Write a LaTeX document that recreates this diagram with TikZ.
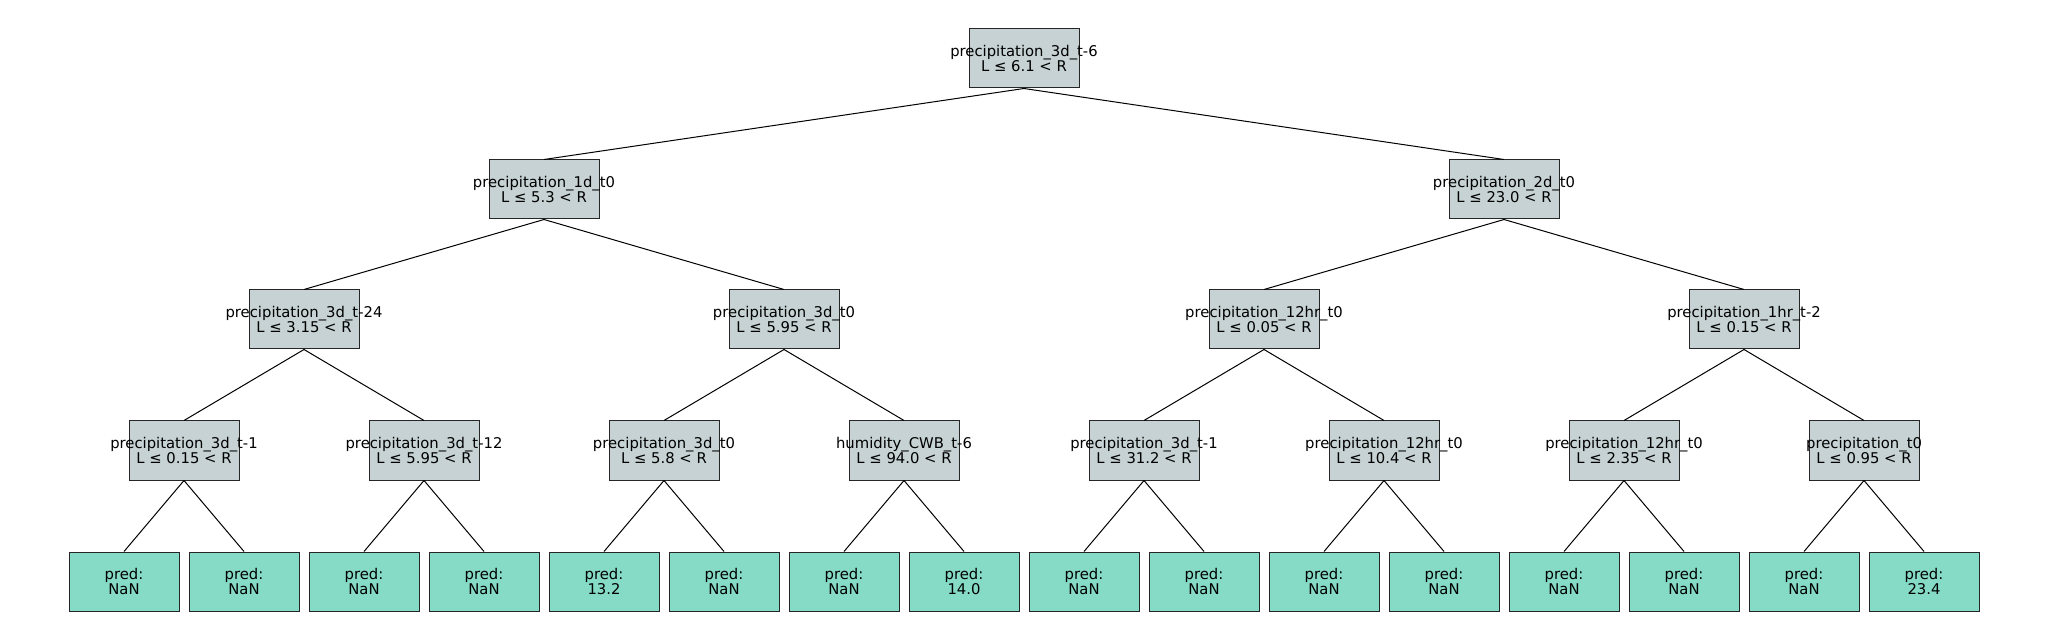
\documentclass[tikz,border=0pt]{standalone}
\usepackage{fontspec}
\setmainfont{DejaVu Sans}
\definecolor{splitfill}{HTML}{C6D2D3}
\definecolor{leaffill}{HTML}{85DBC6}
\newcommand{\twol}[2]{\makebox[0pt]{#1}\\\makebox[0pt]{#2}}
\begin{document}
\begin{tikzpicture}[x=0.5pt,y=-0.5pt,
  box/.style={draw=black!85,line width=0.5pt,minimum width=55pt,minimum height=29.5pt,inner sep=0pt,align=center,font=\fontsize{7.4pt}{7.9pt}\selectfont},
  split/.style={box,fill=splitfill},
  leaf/.style={box,fill=leaffill},
  edge/.style={draw=black,line width=0.5pt}]
\useasboundingbox[fill=white] (0,0) rectangle (2048,640);
% root
\node[split] (r) at (1024,58.5) {\twol{precipitation\_3d\_t-6}{L ≤ 6.1 < R}};
% level 1
\node[split] (a) at (544,189.5) {\twol{precipitation\_1d\_t0}{L ≤ 5.3 < R}};
\node[split] (b) at (1504,189.5) {\twol{precipitation\_2d\_t0}{L ≤ 23.0 < R}};
% level 2
\node[split] (aa) at (304,319.5) {\twol{precipitation\_3d\_t-24}{L ≤ 3.15 < R}};
\node[split] (ab) at (784,319.5) {\twol{precipitation\_3d\_t0}{L ≤ 5.95 < R}};
\node[split] (ba) at (1264,319.5) {\twol{precipitation\_12hr\_t0}{L ≤ 0.05 < R}};
\node[split] (bb) at (1744,319.5) {\twol{precipitation\_1hr\_t-2}{L ≤ 0.15 < R}};
% level 3
\node[split] (aaa) at (184,450.5) {\twol{precipitation\_3d\_t-1}{L ≤ 0.15 < R}};
\node[split] (aab) at (424,450.5) {\twol{precipitation\_3d\_t-12}{L ≤ 5.95 < R}};
\node[split] (aba) at (664,450.5) {\twol{precipitation\_3d\_t0}{L ≤ 5.8 < R}};
\node[split] (abb) at (904,450.5) {\twol{humidity\_CWB\_t-6}{L ≤ 94.0 < R}};
\node[split] (baa) at (1144,450.5) {\twol{precipitation\_3d\_t-1}{L ≤ 31.2 < R}};
\node[split] (bab) at (1384,450.5) {\twol{precipitation\_12hr\_t0}{L ≤ 10.4 < R}};
\node[split] (bba) at (1624,450.5) {\twol{precipitation\_12hr\_t0}{L ≤ 2.35 < R}};
\node[split] (bbb) at (1864,450.5) {\twol{precipitation\_t0}{L ≤ 0.95 < R}};
% leaves
\node[leaf] (l1) at (124,581.5) {pred:\\NaN};
\node[leaf] (l2) at (244,581.5) {pred:\\NaN};
\node[leaf] (l3) at (364,581.5) {pred:\\NaN};
\node[leaf] (l4) at (484,581.5) {pred:\\NaN};
\node[leaf] (l5) at (604,581.5) {pred:\\13.2};
\node[leaf] (l6) at (724,581.5) {pred:\\NaN};
\node[leaf] (l7) at (844,581.5) {pred:\\NaN};
\node[leaf] (l8) at (964,581.5) {pred:\\14.0};
\node[leaf] (l9) at (1084,581.5) {pred:\\NaN};
\node[leaf] (l10) at (1204,581.5) {pred:\\NaN};
\node[leaf] (l11) at (1324,581.5) {pred:\\NaN};
\node[leaf] (l12) at (1444,581.5) {pred:\\NaN};
\node[leaf] (l13) at (1564,581.5) {pred:\\NaN};
\node[leaf] (l14) at (1684,581.5) {pred:\\NaN};
\node[leaf] (l15) at (1804,581.5) {pred:\\NaN};
\node[leaf] (l16) at (1924,581.5) {pred:\\23.4};
% edges
\foreach \p/\c in {r/a,r/b,a/aa,a/ab,b/ba,b/bb,
  aa/aaa,aa/aab,ab/aba,ab/abb,ba/baa,ba/bab,bb/bba,bb/bbb,
  aaa/l1,aaa/l2,aab/l3,aab/l4,aba/l5,aba/l6,abb/l7,abb/l8,
  baa/l9,baa/l10,bab/l11,bab/l12,bba/l13,bba/l14,bbb/l15,bbb/l16}
  \draw[edge] (\p.south) -- (\c.north);
\end{tikzpicture}
\end{document}
